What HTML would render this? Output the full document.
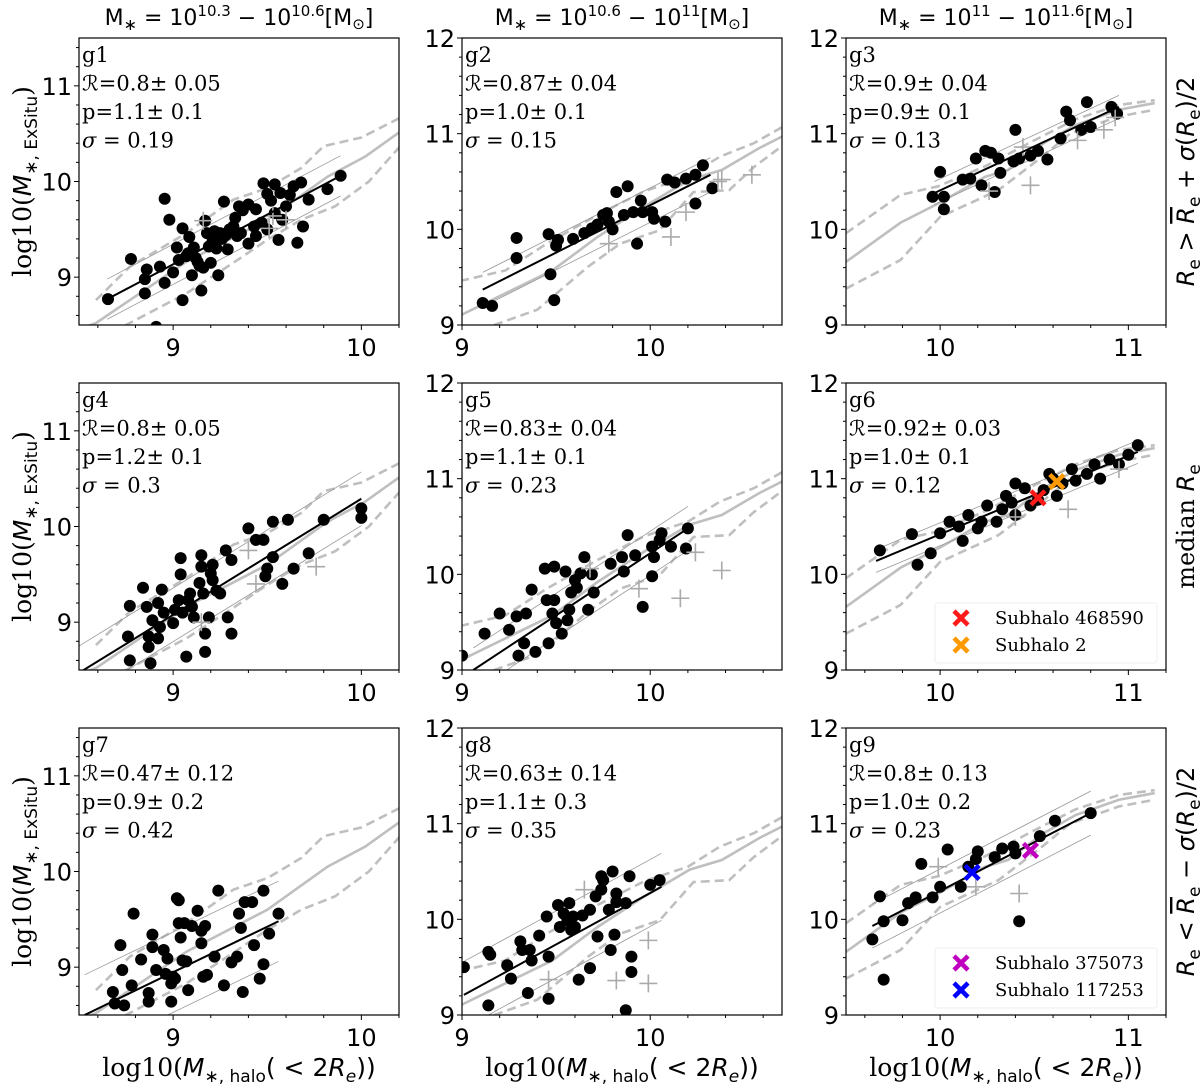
<!DOCTYPE html>
<html><head><meta charset="utf-8"><style>
html,body{margin:0;padding:0;background:#fff;}
svg{display:block;}
text{font-family:"DejaVu Sans","Liberation Sans",sans-serif;}
.serif{font-family:"DejaVu Serif","Liberation Serif",serif;}
</style></head><body>
<svg id="chart" width="1200" height="1088" viewBox="0 0 1200 1088" xmlns="http://www.w3.org/2000/svg"></svg>
<script>
// ---- data ----
const colTitlesLo = ["10.3","10.6","11"];
const colTitlesHi = ["10.6","11","11.6"];
const xTicks1 = [9,10]; const xTicks2 = [9,10]; const xTicks3 = [10,11];
const yTicks1 = [9,10,11]; const yTicks23 = [9,10,11,12];
const col1Median = [[8.45,8.42],[8.59,8.52],[9.07,9.16],[9.5,9.60],[9.82,10.05],[10.02,10.26],[10.22,10.54]];
const col1Upper = [[8.59,8.76],[8.77,9.11],[9.07,9.46],[9.32,9.81],[9.5,9.93],[9.68,10.14],[9.8,10.37],[10.0,10.46],[10.22,10.68]];
const col1Lower = [[8.6,8.42],[8.75,8.5],[9.07,8.83],[9.32,9.15],[9.5,9.39],[9.68,9.6],[9.86,9.74],[10.04,10.0],[10.22,10.40]];
const col2Median = [[8.99,9.10],[9.23,9.33],[9.48,9.57],[9.72,9.92],[9.97,10.24],[10.21,10.52],[10.38,10.62],[10.58,10.85],[10.72,10.99]];
const col2Upper = [[8.99,9.46],[9.23,9.57],[9.45,9.85],[9.72,10.15],[9.97,10.40],[10.2,10.55],[10.37,10.76],[10.55,10.90],[10.72,11.09]];
const col2Lower = [[9.1,8.95],[9.4,9.16],[9.67,9.61],[9.84,9.85],[10.05,9.99],[10.23,10.39],[10.42,10.41],[10.55,10.65],[10.72,10.90]];
const col3Median = [[9.5,9.66],[9.79,10.07],[9.99,10.27],[10.24,10.55],[10.36,10.62],[10.55,10.90],[10.72,11.09],[10.95,11.25],[11.14,11.32]];
const col3Upper = [[9.5,9.96],[9.79,10.36],[9.99,10.45],[10.24,10.66],[10.50,10.93],[10.72,11.15],[10.95,11.30],[11.14,11.35]];
const col3Lower = [[9.5,9.38],[9.79,9.68],[10.0,10.13],[10.31,10.41],[10.53,10.74],[10.69,11.0],[10.95,11.18],[11.14,11.25]];

const g1Points = [[8.654,8.77],[8.776,9.19],[8.85,8.98],[8.85,8.83],[8.86,9.08],[8.93,9.11],[8.955,9.82],[8.955,8.94],[8.98,9.60],[9.0,9.05],[9.05,9.51],[9.05,8.76],[9.02,9.31],[9.086,9.42],[9.10,9.02],[9.11,9.31],[9.14,9.12],[9.15,8.86],[9.17,9.59],[9.20,9.15],[9.21,9.39],[9.24,9.02],[9.27,9.79],[9.23,9.30],[9.25,9.46],[9.30,9.50],[9.33,9.62],[9.35,9.74],[9.36,9.46],[9.40,9.76],[9.40,9.35],[9.44,9.43],[9.44,9.71],[9.48,9.98],[9.50,9.87],[9.54,9.97],[9.50,9.50],[9.56,9.39],[9.57,9.88],[9.60,9.74],[9.64,9.95],[9.66,9.36],[9.69,9.53],[9.68,9.99],[9.72,9.81],[9.82,9.92],[9.89,10.06],[8.91,8.48],[9.18,9.46],[9.29,9.29],[9.07,9.22],[9.32,9.53],[9.43,9.53],[9.54,9.67],[9.12,9.2],[9.26,9.4],[9.08,9.25],[9.13,9.16],[9.19,9.32],[9.22,9.48],[9.28,9.44],[9.31,9.48],[9.37,9.70],[9.47,9.57],[9.52,9.80],[9.58,9.60],[9.62,9.86],[9.16,9.10],[9.03,9.18],[9.34,9.43]];
const g1Crosses = [[9.16,9.59],[9.51,9.51],[9.53,9.64],[9.60,9.60]];
const g1Fit = [8.65,8.77,9.89,10.06];
const g2Points = [[9.11,9.23],[9.16,9.20],[9.29,9.91],[9.29,9.70],[9.46,9.95],[9.47,9.53],[9.49,9.26],[9.50,9.83],[9.51,9.89],[9.59,9.90],[9.65,9.96],[9.69,10.01],[9.72,10.05],[9.75,10.15],[9.77,10.17],[9.78,10.08],[9.82,10.39],[9.80,10.0],[9.86,10.15],[9.88,10.45],[9.91,10.18],[9.93,9.85],[9.95,10.30],[9.96,10.18],[10.01,10.18],[10.02,10.11],[10.08,10.08],[10.09,10.52],[10.13,10.49],[10.19,10.53],[10.24,10.57],[10.24,10.27],[10.28,10.67],[10.33,10.43]];
const g2Crosses = [[9.78,9.85],[10.11,9.92],[10.19,10.18],[10.36,10.5],[10.38,10.52],[10.54,10.57]];
const g2Fit = [9.11,9.37,10.32,10.57];
const g3Points = [[9.96,10.34],[10.0,10.60],[10.02,10.34],[10.02,10.21],[10.12,10.52],[10.16,10.53],[10.19,10.74],[10.22,10.46],[10.24,10.82],[10.27,10.80],[10.29,10.39],[10.31,10.74],[10.32,10.59],[10.39,10.71],[10.40,11.04],[10.42,10.74],[10.48,10.77],[10.52,10.82],[10.57,10.73],[10.64,10.95],[10.67,11.23],[10.69,11.14],[10.75,11.04],[10.78,11.33],[10.80,11.07],[10.91,11.28],[10.94,11.21]];
const g3Crosses = [[10.26,10.40],[10.48,10.46],[10.73,10.93],[10.87,11.04],[10.93,11.17],[10.44,10.86]];
const g3Fit = [9.97,10.38,10.95,11.28];
const g4Points = [[8.77,9.17],[8.76,8.85],[8.77,8.60],[8.84,9.36],[8.86,9.16],[8.87,8.85],[8.87,8.74],[8.88,8.57],[8.89,9.02],[8.92,8.83],[8.92,9.2],[8.93,8.95],[8.94,9.34],[8.95,9.1],[9.0,8.99],[9.01,9.13],[9.03,9.23],[9.04,9.67],[9.04,9.5],[9.05,9.1],[9.07,8.64],[9.08,9.23],[9.09,9.30],[9.1,9.16],[9.11,9.05],[9.14,9.41],[9.15,9.7],[9.15,9.58],[9.16,9.3],[9.17,8.88],[9.17,8.69],[9.19,9.05],[9.2,9.51],[9.21,9.6],[9.21,9.44],[9.23,9.33],[9.25,9.3],[9.28,9.75],[9.29,9.05],[9.31,8.88],[9.31,9.65],[9.40,9.98],[9.44,9.86],[9.48,9.86],[9.49,9.48],[9.5,9.56],[9.53,10.05],[9.53,9.68],[9.61,10.07],[9.58,9.4],[9.64,9.56],[9.72,9.72],[9.80,10.07],[10.0,10.19],[10.0,10.09]];
const g4Crosses = [[9.15,9.0],[9.4,9.75],[9.44,9.4],[9.76,9.58]];
const g4Fit = [8.5,8.47,10.0,10.29];
const g5Points = [[9.12,9.38],[9.2,9.59],[9.25,9.42],[9.29,9.56],[9.3,9.15],[9.33,9.28],[9.34,9.59],[9.37,9.84],[9.39,9.19],[9.44,10.06],[9.45,9.73],[9.46,9.28],[9.48,9.59],[9.49,10.08],[9.49,9.73],[9.5,9.49],[9.53,9.38],[9.55,10.03],[9.56,9.52],[9.57,9.63],[9.58,9.81],[9.6,9.94],[9.61,9.86],[9.63,10.01],[9.65,10.18],[9.67,9.63],[9.69,10.0],[9.7,9.81],[9.79,10.11],[9.85,10.18],[9.86,10.03],[9.88,10.41],[9.92,10.2],[9.96,9.66],[10.01,9.98],[10.01,10.29],[10.02,10.18],[10.05,10.36],[10.06,10.43],[10.11,10.29],[10.19,10.27],[10.2,10.48],[9.0,9.15]];
const g5Crosses = [[9.68,10.06],[9.94,9.85],[10.16,9.75],[10.24,10.23],[10.38,10.04]];
const g5Fit = [9.06,9.0,10.2,10.48];
const g6Points = [[9.68,10.25],[9.85,10.42],[9.88,10.1],[9.95,10.22],[10.0,10.43],[10.05,10.55],[10.1,10.5],[10.12,10.35],[10.15,10.62],[10.2,10.48],[10.22,10.55],[10.25,10.72],[10.3,10.55],[10.33,10.68],[10.35,10.82],[10.38,10.75],[10.4,10.62],[10.45,10.9],[10.48,10.72],[10.52,10.78],[10.55,10.88],[10.6,11.0],[10.62,10.82],[10.65,10.95],[10.7,11.1],[10.72,10.98],[10.78,11.05],[10.82,11.15],[10.85,11.0],[10.9,11.2],[10.95,11.15],[11.0,11.25],[11.05,11.35],[10.4,10.95],[10.58,11.05]];
const g6Crosses = [[10.4,10.6],[10.68,10.68],[10.95,11.1]];
const g6Fit = [9.66,10.14,11.05,11.28];
const g7Points = [[8.72,9.23],[8.68,8.74],[8.69,8.62],[8.74,8.60],[8.73,8.97],[8.79,9.56],[8.78,8.81],[8.83,9.08],[8.87,8.73],[8.87,8.64],[8.89,9.34],[8.89,9.21],[8.91,8.97],[8.95,9.18],[8.96,8.93],[8.97,9.09],[8.99,8.83],[8.99,8.64],[9.0,8.9],[9.01,8.88],[9.02,9.72],[9.03,9.70],[9.04,9.31],[9.03,9.46],[9.05,9.07],[9.06,9.46],[9.07,9.06],[9.08,8.76],[9.1,9.43],[9.13,9.59],[9.15,9.38],[9.15,9.25],[9.16,8.90],[9.17,9.43],[9.18,8.92],[9.22,9.11],[9.24,9.80],[9.27,8.81],[9.31,9.05],[9.34,9.11],[9.35,9.56],[9.36,9.41],[9.37,8.74],[9.38,9.68],[9.42,9.68],[9.43,9.23],[9.46,8.88],[9.48,9.80],[9.48,9.03],[9.51,9.35],[9.56,9.56]];
const g7Crosses = [];
const g7Fit = [8.53,8.50,9.56,9.48];
const g8Points = [[9.01,9.50],[9.14,9.10],[9.14,9.66],[9.15,9.63],[9.24,9.52],[9.26,9.38],[9.31,9.77],[9.32,9.68],[9.35,9.23],[9.36,9.68],[9.37,9.57],[9.41,9.83],[9.46,9.61],[9.45,10.03],[9.46,9.17],[9.51,10.15],[9.52,9.92],[9.54,10.06],[9.56,9.99],[9.57,10.17],[9.58,9.89],[9.59,10.03],[9.60,9.92],[9.62,9.37],[9.64,10.04],[9.68,9.49],[9.68,10.10],[9.71,10.24],[9.72,9.82],[9.74,10.45],[9.74,10.31],[9.75,10.41],[9.78,10.10],[9.79,9.68],[9.80,10.50],[9.82,10.27],[9.82,10.18],[9.81,9.84],[9.87,9.05],[9.87,10.17],[9.89,10.45],[9.90,9.61],[9.90,9.45],[10.0,10.36],[10.05,10.41]];
const g8Crosses = [[9.46,9.37],[9.65,10.31],[9.82,9.36],[9.99,9.78],[9.99,9.33]];
const g8Fit = [9.01,9.21,10.06,10.34];
const g9Points = [[9.64,9.79],[9.68,10.24],[9.70,9.98],[9.70,9.37],[9.80,9.99],[9.83,10.17],[9.87,10.23],[9.96,10.23],[10.0,10.34],[10.04,10.73],[9.9,10.58],[10.11,10.34],[10.15,10.55],[10.19,10.63],[10.2,10.71],[10.29,10.65],[10.33,10.74],[10.39,10.76],[10.4,10.69],[10.42,9.98],[10.53,10.87],[10.61,11.03],[10.80,11.11]];
const g9Crosses = [[9.99,10.55],[10.19,10.34],[10.42,10.27]];
const g9Fit = [9.64,9.93,10.8,11.11];
const g6Special = [[10.52,10.8,"#ff1a1a","Subhalo 468590"],[10.62,10.97,"#ff9900","Subhalo 2"]];
const g9Special = [[10.48,10.72,"#bf00bf","Subhalo 375073"],[10.17,10.49,"#0000ff","Subhalo 117253"]];

const panels = [
 {id:"g1",r:0,c:0,pts:g1Points,cr:g1Crosses,fit:g1Fit,sig:0.21,st:["0.8± 0.05","1.1± 0.1","0.19"]},
 {id:"g2",r:0,c:1,pts:g2Points,cr:g2Crosses,fit:g2Fit,sig:0.18,st:["0.87± 0.04","1.0± 0.1","0.15"]},
 {id:"g3",r:0,c:2,pts:g3Points,cr:g3Crosses,fit:g3Fit,sig:0.12,st:["0.9± 0.04","0.9± 0.1","0.13"]},
 {id:"g4",r:1,c:0,pts:g4Points,cr:g4Crosses,fit:g4Fit,sig:0.28,st:["0.8± 0.05","1.2± 0.1","0.3"]},
 {id:"g5",r:1,c:1,pts:g5Points,cr:g5Crosses,fit:g5Fit,sig:0.23,st:["0.83± 0.04","1.1± 0.1","0.23"]},
 {id:"g6",r:1,c:2,pts:g6Points,cr:g6Crosses,fit:g6Fit,sig:0.12,st:["0.92± 0.03","1.0± 0.1","0.12"],sp:g6Special},
 {id:"g7",r:2,c:0,pts:g7Points,cr:g7Crosses,fit:g7Fit,sig:0.42,st:["0.47± 0.12","0.9± 0.2","0.42"]},
 {id:"g8",r:2,c:1,pts:g8Points,cr:g8Crosses,fit:g8Fit,sig:0.35,st:["0.63± 0.14","1.1± 0.3","0.35"]},
 {id:"g9",r:2,c:2,pts:g9Points,cr:g9Crosses,fit:g9Fit,sig:0.23,st:["0.8± 0.13","1.0± 0.2","0.23"],sp:g9Special}
];

// ---- layout ----
const NS="http://www.w3.org/2000/svg";
const svg=document.getElementById("chart");
const colLeft=[79,462,846], rowTop=[38,383,728], PW=320, PH=287;
const xlims=[[8.5,10.2],[9,10.7],[9.5,11.2]];
const ylims=[[8.5,11.5],[9,12],[9,12]];
const curves=[[col1Median,col1Upper,col1Lower],[col2Median,col2Upper,col2Lower],[col3Median,col3Upper,col3Lower]];
const xtk=[xTicks1,xTicks2,xTicks3];
function el(tag,attrs,parent){const e=document.createElementNS(NS,tag);for(const k in attrs)e.setAttribute(k,attrs[k]);(parent||svg).appendChild(e);return e;}
function rng(a,b,s){const o=[];for(let v=a;v<=b+1e-9;v+=s)o.push(Math.round(v*10)/10);return o;}

panels.forEach(p=>{
  const L=colLeft[p.c],T=rowTop[p.r],xl=xlims[p.c],yl=ylims[p.c];
  const X=v=>L+(v-xl[0])/(xl[1]-xl[0])*PW;
  const Y=v=>T+PH-(v-yl[0])/(yl[1]-yl[0])*PH;
  const g=el("g",{});
  
  
  const cp=el("clipPath",{id:"clip-"+p.id},g);
  el("rect",{x:L,y:T,width:PW,height:PH},cp);
  const plot=el("g",{"clip-path":"url(#clip-"+p.id+")"},g);
  const cv=curves[p.c];
  const names=['median-curve','upper-quantile-curve','lower-quantile-curve'];
  cv.forEach((arr,i)=>{
    const pl=el("polyline",{points:arr.map(q=>X(q[0])+","+Y(q[1])).join(" "),fill:"none",stroke:"#bfbfbf","stroke-width":2.6,"stroke-dasharray":i?"9,5":"none"},plot);
    
    
  });
  const f=p.fit;
  [p.sig,-p.sig].forEach((s,i)=>{
    const ln=el("line",{x1:X(f[0]),y1:Y(f[1]+s),x2:X(f[2]),y2:Y(f[3]+s),stroke:"#999","stroke-width":0.8},plot);
    
    
  });
  p.pts.forEach(q=>{
    const c=el("circle",{cx:X(q[0]),cy:Y(q[1]),r:6,fill:"#000"},plot);
    
    
  });
  p.cr.forEach(q=>{
    const cx=X(q[0]),cy=Y(q[1]);
    const pth=el("path",{d:`M${cx-9},${cy}H${cx+9}M${cx},${cy-9}V${cy+9}`,stroke:"#aaa","stroke-width":1.6,fill:"none"},plot);
    
    
  });
  const fl=el("line",{x1:X(f[0]),y1:Y(f[1]),x2:X(f[2]),y2:Y(f[3]),stroke:"#000","stroke-width":2},plot);
  
  
  if(p.sp){
    p.sp.forEach((s,i)=>{
      const cx=X(s[0]),cy=Y(s[1]);
      const m=el("path",{d:`M${cx-7},${cy-7}L${cx+7},${cy+7}M${cx-7},${cy+7}L${cx+7},${cy-7}`,stroke:s[2],"stroke-width":4.5},plot);
      
      
    });
    const lg=el("g",{},g);
    
    
    const ly=T+PH-67;
    el("rect",{x:935,y:ly,width:222,height:60,fill:"#fff",stroke:"#eee","stroke-width":1,rx:3},lg);
    p.sp.forEach((s,i)=>{
      const cy=ly+15+i*27, cx=961;
      el("path",{d:`M${cx-7},${cy-7}L${cx+7},${cy+7}M${cx-7},${cy+7}L${cx+7},${cy-7}`,stroke:s[2],"stroke-width":4.5},lg);
      const t=el("text",{x:995,y:cy+6,"font-size":18,class:"serif",fill:"#000"},lg);
      t.textContent=s[3];
      
      
    });
  }
  const fr=el("rect",{x:L,y:T,width:PW,height:PH,fill:"none",stroke:"#000","stroke-width":1.2},g);
  
  
  rng(Math.ceil(xl[0]*5)/5,xl[1],0.2).forEach(v=>{
    const major=Math.abs(v-Math.round(v))<1e-6;
    el("line",{x1:X(v),x2:X(v),y1:T+PH,y2:T+PH+(major?5:3),stroke:"#000","stroke-width":1},g);
  });
  xtk[p.c].forEach(v=>{
    const t=el("text",{x:X(v),y:T+PH+31,"text-anchor":"middle","font-size":24},g);
    t.textContent=v;
    
    
  });
  rng(Math.ceil(yl[0]*5)/5,yl[1],0.2).forEach(v=>{
    const major=Math.abs(v-Math.round(v))<1e-6;
    el("line",{x1:L,x2:L-(major?5:3),y1:Y(v),y2:Y(v),stroke:"#000","stroke-width":1},g);
  });
  (p.c==0?yTicks1:yTicks23).forEach(v=>{
    const t=el("text",{x:L-7,y:Y(v)+9,"text-anchor":"end","font-size":24},g);
    t.textContent=v;
    
    
  });
  const lines=[p.id,"ℛ="+p.st[0],"p="+p.st[1],null];
  lines.forEach((s,i)=>{
    const t=el("text",{x:L+3,y:T+24+i*28.5,"font-size":21,class:"serif"},g);
    if(s===null){t.innerHTML='<tspan font-style="italic">σ</tspan> = '+p.st[2];}
    else t.textContent=s;
    
    
  });
});

[0,1,2].forEach(c=>{
  const t=el("text",{x:colLeft[c]+PW/2,y:25,"text-anchor":"middle","font-size":22});
  t.innerHTML=`M<tspan font-size="16" dy="5">∗</tspan><tspan dy="-5"> = 10</tspan><tspan font-size="15" dy="-9">${colTitlesLo[c]}</tspan><tspan dy="9"> − 10</tspan><tspan font-size="15" dy="-9">${colTitlesHi[c]}</tspan><tspan dy="9">[M</tspan><tspan font-size="15" dy="4">⊙</tspan><tspan dy="-4">]</tspan>`;
  
  
});
[0,1,2].forEach(r=>{
  const cy=rowTop[r]+PH/2;
  const t=el("text",{x:0,y:0,"text-anchor":"middle","font-size":25,transform:`translate(31,${cy}) rotate(-90)`});
  t.innerHTML=`<tspan class="serif">log10(</tspan><tspan font-style="italic">M</tspan><tspan font-size="17" dy="6">∗, ExSitu</tspan><tspan dy="-6" class="serif">)</tspan>`;
  
  
});
[0,1,2].forEach(c=>{
  const t=el("text",{x:colLeft[c]+PW/2,y:1076,"text-anchor":"middle","font-size":25});
  t.innerHTML=`<tspan class="serif">log10(</tspan><tspan font-style="italic">M</tspan><tspan font-size="17" dy="6">∗, halo</tspan><tspan dy="-6">( &lt; 2</tspan><tspan font-style="italic">R</tspan><tspan font-size="17" font-style="italic" dy="6">e</tspan><tspan dy="-6">))</tspan>`;
  
  
});
const rowLabels=[
 `<tspan font-style="italic">R</tspan><tspan font-size="17" dy="6">e</tspan><tspan dy="-6"> &gt; </tspan><tspan font-style="italic" text-decoration="overline">R</tspan><tspan font-size="17" dy="6">e</tspan><tspan dy="-6"> + </tspan><tspan font-style="italic">σ</tspan>(<tspan font-style="italic">R</tspan><tspan font-size="17" dy="6">e</tspan><tspan dy="-6">)/2</tspan>`,
 `<tspan class="serif">median </tspan><tspan font-style="italic">R</tspan><tspan font-size="17" dy="6">e</tspan>`,
 `<tspan font-style="italic">R</tspan><tspan font-size="17" dy="6">e</tspan><tspan dy="-6"> &lt; </tspan><tspan font-style="italic" text-decoration="overline">R</tspan><tspan font-size="17" dy="6">e</tspan><tspan dy="-6"> − </tspan><tspan font-style="italic">σ</tspan>(<tspan font-style="italic">R</tspan><tspan font-size="17" dy="6">e</tspan><tspan dy="-6">)/2</tspan>`
];
rowLabels.forEach((h,r)=>{
  const cy=rowTop[r]+PH/2;
  const t=el("text",{x:0,y:0,"text-anchor":"middle","font-size":24,transform:`translate(1194,${cy}) rotate(-90)`});
  t.innerHTML=h;
  
  
});
</script>
</body></html>
